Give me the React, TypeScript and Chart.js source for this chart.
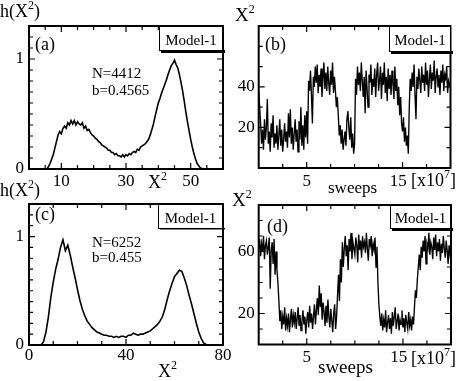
import { useEffect, useRef } from "react";
import { Chart, registerables } from "chart.js";

Chart.register(...registerables);

// ---------------- DATA ----------------
// Panel (a): histogram h(X^2), N=4412, b=0.4565 ; bins start at 5.5, width 0.5
const histAStart = 5.5;
const histAStep = 0.5;
const histA = [
  0, 0.02, 0.05, 0.09, 0.13, 0.19, 0.25, 0.31, 0.34, 0.32,
  0.37, 0.39, 0.37, 0.42, 0.40, 0.44, 0.41, 0.44, 0.40, 0.43,
  0.41, 0.40, 0.42, 0.37, 0.39, 0.35, 0.36, 0.33, 0.31, 0.30,
  0.28, 0.27, 0.25, 0.24, 0.22, 0.21, 0.20, 0.19, 0.17, 0.17,
  0.15, 0.15, 0.13, 0.14, 0.12, 0.12, 0.11, 0.13, 0.11, 0.13,
  0.12, 0.14, 0.13, 0.15, 0.16, 0.15, 0.18, 0.17, 0.20, 0.21,
  0.22, 0.23, 0.25, 0.27, 0.31, 0.36, 0.41, 0.48, 0.54, 0.60,
  0.64, 0.69, 0.73, 0.77, 0.81, 0.86, 0.90, 0.94, 0.96, 0.99,
  0.95, 0.92, 0.86, 0.79, 0.71, 0.62, 0.52, 0.43, 0.35, 0.27,
  0.20, 0.14, 0.09, 0.05, 0.03, 0.01, 0.005, 0,
];

// Panel (c): histogram h(X^2), N=6252, b=0.455 ; bins start at 5, width 1
const histCStart = 5;
const histCStep = 1;
const histC = [
  0, 0.03, 0.12, 0.26, 0.44, 0.58, 0.70, 0.79, 0.90, 0.97,
  0.87, 0.92, 0.83, 0.72, 0.62, 0.51, 0.41, 0.33, 0.27, 0.22,
  0.19, 0.16, 0.14, 0.12, 0.11, 0.10, 0.09, 0.09, 0.08, 0.08,
  0.07, 0.08, 0.07, 0.08, 0.08, 0.07, 0.09, 0.09, 0.11, 0.10,
  0.09, 0.10, 0.10, 0.11, 0.12, 0.13, 0.15, 0.17, 0.19, 0.22,
  0.26, 0.33, 0.42, 0.50, 0.57, 0.63, 0.66, 0.69, 0.68, 0.62,
  0.55, 0.46, 0.38, 0.29, 0.20, 0.12, 0.06, 0.02, 0.005, 0,
];

// Panel (b): X^2 vs sweeps [x10^7], one sample every 0.1
const sweepStepB = 0.1;
const seriesB = [
  38, 30, 22, 12, 19, 9, 24, 14, 20, 34,
  12, 18, 8, 22, 15, 26, 10, 17, 12, 21,
  9, 16, 24, 11, 19, 8, 14, 22, 13, 18,
  10, 27, 15, 29, 12, 20, 9, 17, 24, 13,
  19, 8, 23, 14, 30, 11, 21, 9, 26, 15,
  28, 12, 43, 38, 48, 36, 22, 45, 40, 50,
  42, 51, 37, 46, 40, 49, 35, 44, 52, 39,
  47, 38, 50, 42, 36, 48, 41, 52, 37, 45,
  38, 30, 35, 26, 16, 21, 12, 19, 9, 14,
  18, 11, 24, 28, 20, 14, 25, 10, 17, 7,
  12, 44, 36, 50, 41, 47, 38, 52, 43, 35,
  45, 27, 48, 39, 30, 46, 42, 51, 36, 44,
  40, 49, 35, 46, 52, 38, 43, 50, 34, 47,
  41, 52, 37, 45, 33, 49, 39, 46, 36, 48,
  42, 34, 50, 38, 44, 31, 40, 26, 35, 22,
  18, 25, 13, 20, 11, 16, 7, 30, 44, 38,
  47, 40, 51, 36, 24, 45, 39, 49, 43, 37,
  50, 42, 46, 38, 52, 41, 48, 35, 44, 51,
  39, 47, 43, 53, 37, 45, 49, 40, 46, 36,
  48, 42, 51, 38, 46, 44, 50, 37, 43, 41, 40,
];

// Panel (d): X^2 vs sweeps [x10^7], one sample every 0.1
const sweepStepD = 0.1;
const seriesD = [
  62, 68, 57, 65, 60, 70, 55, 64, 67, 58,
  63, 69, 36, 61, 66, 52, 68, 45, 60, 48,
  40, 28, 15, 22, 10, 18, 13, 24, 9, 17,
  12, 20, 8, 16, 23, 11, 19, 14, 21, 10,
  17, 24, 12, 19, 9, 15, 22, 13, 18, 7,
  16, 21, 11, 25, 14, 20, 10, 18, 26, 13,
  22, 30, 19, 38, 24, 33, 16, 27, 21, 12,
  25, 14, 29, 18, 11, 23, 16, 8, 20, 26,
  10, 18, 32, 45, 28, 55, 40, 66, 50, 62,
  70, 57, 64, 48, 68, 60, 72, 55, 66, 62,
  58, 69, 64, 53, 71, 61, 67, 56, 70, 63,
  66, 59, 72, 62, 54, 68, 64, 70, 57, 65,
  61, 69, 50, 63, 40, 26, 18, 12, 20, 9,
  16, 11, 22, 8, 14, 19, 10, 17, 7, 21,
  12, 18, 24, 10, 15, 20, 9, 16, 13, 22,
  11, 17, 8, 19, 14, 10, 21, 12, 16, 9,
  18, 13, 24, 35, 30, 42, 50, 58, 48, 63,
  56, 67, 60, 70, 52, 65, 62, 72, 58, 66,
  63, 55, 69, 61, 71, 57, 66, 60, 68, 54,
  65, 59, 70, 62, 56, 67, 61, 52, 64, 58, 62,
];

// Labeled tick values
const labelsAx = [10, 30, 50];
const labelsAy = [0, 1];
const labelsBx = [5, 15];
const labelsBy = [20, 40];
const labelsCx = [0, 40, 80];
const labelsCy = [0, 1];
const labelsDx = [5, 15];
const labelsDy = [20, 60];

// ---------------- LAYOUT ----------------
const W = 463;
const H = 381;
const FONT = "'Liberation Serif', 'DejaVu Serif', serif";
const Y_W = 26;
const X_H = 24;

type Seg = [string, boolean];
type Txt = { segs: Seg[]; x: number; y: number; size: number };
type Panel = {
  box: { l: number; t: number; r: number; b: number };
  xMin: number; xMax: number; xStep: number; xLabels: number[]; xPad: number; xShiftLast: boolean;
  yMin: number; yMax: number; yStep: number; yLabels: number[]; yPad: number;
  xs: number[]; ys: number[]; lw: number;
  model: { x: number; y: number; w: number; h: number; ty: number; shadow: number };
  texts: Txt[];
};

const sup = (base: string, s: string, after = ""): Seg[] =>
  after ? [[base, false], [s, true], [after, false]] : [[base, false], [s, true]];

const panels: Panel[] = [
  {
    box: { l: 29, t: 26, r: 223, b: 169 },
    xMin: 0, xMax: 60, xStep: 5, xLabels: labelsAx, xPad: 2, xShiftLast: false,
    yMin: 0, yMax: 1.3, yStep: 0.1, yLabels: labelsAy, yPad: 5,
    xs: histA.map((_, i) => histAStart + i * histAStep), ys: histA, lw: 1.6,
    model: { x: 159, y: 26, w: 64, h: 24, ty: 45, shadow: 3 },
    texts: [
      { segs: sup("h(X", "2", ")"), x: 0, y: 17, size: 18 },
      { segs: [["(a)", false]], x: 35, y: 50, size: 18 },
      { segs: [["N=4412", false]], x: 92, y: 78, size: 15 },
      { segs: [["b=0.4565", false]], x: 92, y: 95, size: 15 },
      { segs: sup("X", "2"), x: 148, y: 188, size: 18 },
    ],
  },
  {
    box: { l: 258.7, t: 26, r: 450.5, b: 168 },
    xMin: 0, xMax: 20, xStep: 2.5, xLabels: labelsBx, xPad: 3, xShiftLast: true,
    yMin: 0, yMax: 70, yStep: 10, yLabels: labelsBy, yPad: 4,
    xs: seriesB.map((_, i) => i * sweepStepB), ys: seriesB, lw: 1.35,
    model: { x: 389, y: 26, w: 62, h: 25, ty: 45, shadow: 3 },
    texts: [
      { segs: sup("X", "2"), x: 235, y: 21, size: 19 },
      { segs: [["(b)", false]], x: 265, y: 50, size: 18 },
      { segs: [["sweeps", false]], x: 328, y: 193, size: 17 },
      { segs: sup("[x10", "7", "]"), x: 411, y: 186, size: 18 },
    ],
  },
  {
    box: { l: 29, t: 204, r: 223, b: 345 },
    xMin: 0, xMax: 80, xStep: 10, xLabels: labelsCx, xPad: 0, xShiftLast: false,
    yMin: 0, yMax: 1.3, yStep: 0.1, yLabels: labelsCy, yPad: 5,
    xs: histC.map((_, i) => histCStart + i * histCStep), ys: histC, lw: 1.6,
    model: { x: 158, y: 204, w: 65, h: 24, ty: 223, shadow: 1.5 },
    texts: [
      { segs: sup("h(X", "2", ")"), x: 0, y: 196, size: 18 },
      { segs: [["(c)", false]], x: 35, y: 220, size: 18 },
      { segs: [["N=6252", false]], x: 92, y: 247, size: 15 },
      { segs: [["b=0.455", false]], x: 92, y: 262, size: 15 },
      { segs: sup("X", "2"), x: 158, y: 377, size: 18 },
    ],
  },
  {
    box: { l: 258.7, t: 205, r: 451, b: 344.5 },
    xMin: 0, xMax: 20, xStep: 2.5, xLabels: labelsDx, xPad: 3, xShiftLast: true,
    yMin: 0, yMax: 90, yStep: 10, yLabels: labelsDy, yPad: 4,
    xs: seriesD.map((_, i) => i * sweepStepD), ys: seriesD, lw: 1.35,
    model: { x: 390, y: 205, w: 61, h: 23, ty: 223, shadow: 3 },
    texts: [
      { segs: sup("X", "2"), x: 232, y: 206, size: 19 },
      { segs: [["(d)", false]], x: 267, y: 232, size: 18 },
      { segs: [["sweeps", false]], x: 318, y: 373, size: 19 },
      { segs: sup("[x10", "7", "]"), x: 411, y: 364, size: 18 },
    ],
  },
];

const near = (list: number[], v: number) => list.some((l) => Math.abs(l - v) < 1e-6);

function drawSegs(ctx: CanvasRenderingContext2D, t: Txt) {
  let x = t.x;
  ctx.textBaseline = "alphabetic";
  ctx.textAlign = "left";
  for (const [s, isSup] of t.segs) {
    const size = isSup ? Math.round(t.size * 0.65) : t.size;
    ctx.font = `${size}px ${FONT}`;
    const y = isSup ? t.y - t.size * 0.42 : t.y;
    ctx.fillText(s, x, y);
    x += ctx.measureText(s).width;
  }
}

function framePlugin(p: Panel) {
  return {
    id: "frame",
    afterDatasetsDraw(chart: any) {
      const ctx: CanvasRenderingContext2D = chart.ctx;
      const { left, top, right, bottom } = chart.chartArea;
      const xs = chart.scales.x;
      const ys = chart.scales.y;
      ctx.save();
      ctx.strokeStyle = "#000";
      ctx.fillStyle = "#000";
      ctx.lineWidth = 1.2;
      ctx.beginPath();
      for (const t of xs.ticks) {
        const px = xs.getPixelForValue(t.value);
        if (px <= left + 1 || px >= right - 1) continue;
        const len = near(p.xLabels, t.value) ? 6 : 4;
        ctx.moveTo(px, bottom);
        ctx.lineTo(px, bottom - len);
        ctx.moveTo(px, top);
        ctx.lineTo(px, top + len);
      }
      for (const t of ys.ticks) {
        const py = ys.getPixelForValue(t.value);
        if (py <= top + 1 || py >= bottom - 1) continue;
        const len = near(p.yLabels, t.value) ? 6 : 4;
        ctx.moveTo(left, py);
        ctx.lineTo(left + len, py);
        ctx.moveTo(right, py);
        ctx.lineTo(right - len, py);
      }
      ctx.stroke();
      ctx.lineWidth = 2;
      ctx.strokeRect(left, top, right - left, bottom - top);

      // Model-1 box with shadow
      const m = p.model;
      ctx.fillStyle = "#fff";
      ctx.fillRect(m.x, m.y, m.w, m.h);
      ctx.fillStyle = "#000";
      ctx.fillRect(m.x + 2, m.y + m.h, m.w, m.shadow);
      ctx.lineWidth = 1;
      ctx.strokeRect(m.x + 0.5, m.y + 0.5, m.w - 1, m.h);
      ctx.font = `15px ${FONT}`;
      ctx.textAlign = "center";
      ctx.textBaseline = "alphabetic";
      ctx.fillText("Model-1", m.x + m.w / 2, m.ty);

      for (const t of p.texts) drawSegs(ctx, t);
      ctx.restore();
    },
  };
}

function makeChart(canvas: HTMLCanvasElement, p: Panel) {
  const data = p.xs.map((x, i) => ({ x, y: p.ys[i] }));
  const tickFont = { family: FONT, size: 17 };
  const lastX = p.xLabels[p.xLabels.length - 1];
  return new Chart(canvas, {
    type: "line",
    data: {
      datasets: [
        {
          data,
          borderColor: "#000",
          borderWidth: p.lw,
          pointRadius: 0,
          tension: 0,
          fill: false,
        },
      ],
    },
    options: {
      animation: false,
      responsive: false,
      events: [],
      layout: {
        padding: {
          left: p.box.l - Y_W,
          top: p.box.t,
          right: W - p.box.r,
          bottom: H - p.box.b - X_H,
        },
      },
      plugins: { legend: { display: false }, tooltip: { enabled: false } },
      scales: {
        x: {
          type: "linear",
          position: "bottom",
          min: p.xMin,
          max: p.xMax,
          grid: { display: false, drawTicks: false },
          border: { display: false },
          ticks: {
            stepSize: p.xStep,
            autoSkip: false,
            maxRotation: 0,
            padding: p.xPad,
            color: "#000",
            font: tickFont,
            callback: (v: any) => {
              const f = p.xLabels.find((l) => Math.abs(l - Number(v)) < 1e-6);
              if (f === undefined) return "";
              return p.xShiftLast && f === lastX ? String(f) + "\u2002" : String(f);
            },
          },
          afterFit: (s: any) => {
            s.height = X_H;
          },
        },
        y: {
          type: "linear",
          position: "left",
          min: p.yMin,
          max: p.yMax,
          grid: { display: false, drawTicks: false },
          border: { display: false },
          ticks: {
            stepSize: p.yStep,
            autoSkip: false,
            padding: p.yPad,
            color: "#000",
            font: tickFont,
            callback: (v: any) => {
              const f = p.yLabels.find((l) => Math.abs(l - Number(v)) < 1e-6);
              return f === undefined ? "" : String(f);
            },
          },
          afterFit: (s: any) => {
            s.width = Y_W;
          },
        },
      },
    } as any,
    plugins: [framePlugin(p)],
  });
}

export default function App() {
  const r0 = useRef<HTMLCanvasElement>(null);
  const r1 = useRef<HTMLCanvasElement>(null);
  const r2 = useRef<HTMLCanvasElement>(null);
  const r3 = useRef<HTMLCanvasElement>(null);
  const refs = [r0, r1, r2, r3];

  useEffect(() => {
    const charts = panels.map((p, i) => makeChart(refs[i].current as HTMLCanvasElement, p));
    return () => charts.forEach((c) => c.destroy());
  }, []);

  return (
    <div
      style={{
        position: "absolute",
        left: 0,
        top: 0,
        width: W,
        height: H,
        background: "#fff",
        overflow: "hidden",
      }}
    >
      {panels.map((_, i) => (
        <canvas
          key={i}
          ref={refs[i]}
          width={W}
          height={H}
          style={{ position: "absolute", left: 0, top: 0 }}
        />
      ))}
    </div>
  );
}
